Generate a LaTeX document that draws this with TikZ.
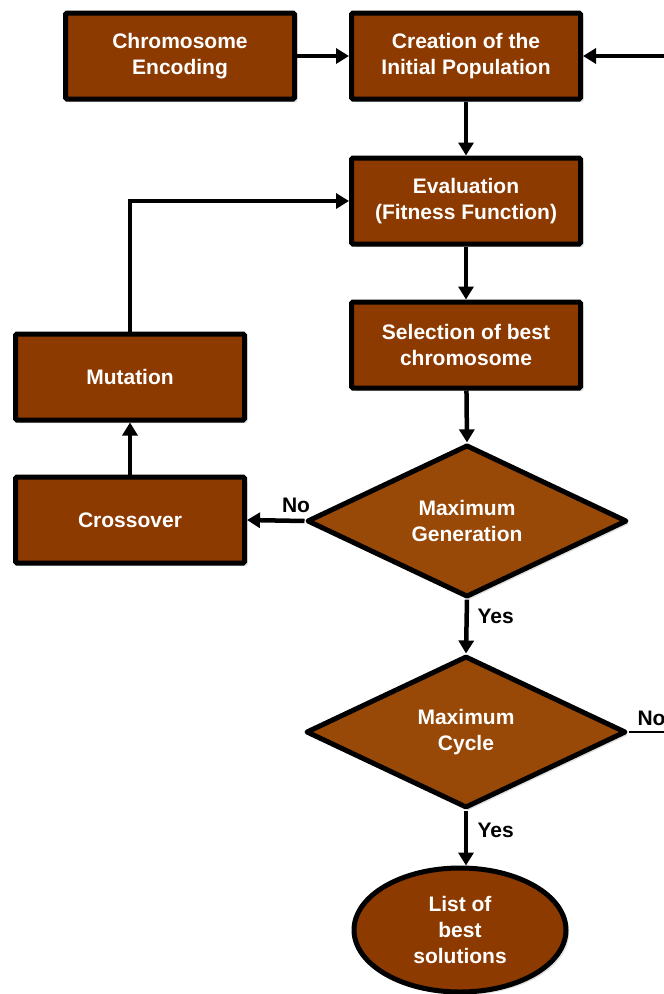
\documentclass[tikz,border=0pt]{standalone}
\usepackage{fontspec}
\setmainfont{Liberation Sans}
\usetikzlibrary{shapes.geometric,arrows.meta,shadows}
\definecolor{boxfill}{HTML}{8C3A00}
\definecolor{diafill}{HTML}{984807}
\begin{document}
\begin{tikzpicture}[x=1pt,y=-1pt,
  every node/.style={font=\bfseries\fontsize{21}{26}\selectfont},
  procbox/.style={draw=black,line width=5pt,fill=boxfill,text=white,align=center,
    minimum width=229pt,minimum height=86pt,inner sep=0pt,rounded corners=1.5pt,
    drop shadow={opacity=0.25,shadow xshift=3pt,shadow yshift=-3pt}},
  decision/.style={diamond,draw=black,line width=5pt,fill=diafill,text=white,align=center,
    minimum width=320pt,minimum height=152pt,inner sep=0pt,line join=round,
    drop shadow={opacity=0.25,shadow xshift=3pt,shadow yshift=-3pt}},
  termin/.style={ellipse,draw=black,line width=5pt,fill=boxfill,text=white,align=center,
    minimum width=212pt,minimum height=124pt,inner sep=0pt,
    drop shadow={opacity=0.25,shadow xshift=3pt,shadow yshift=-3pt}},
  arr/.style={line width=4.5pt,-{Triangle[length=13pt,width=15pt]}},
  lbl/.style={text=black}
]
\useasboundingbox (0,0) rectangle (664,994);
\node[procbox] (enc) at (180,56) {Chromosome\\Encoding};
\node[procbox] (init) at (466,56) {Creation of the\\Initial Population};
\node[procbox] (eval) at (466,201) {Evaluation\\(Fitness Function)};
\node[procbox] (sel) at (466,345) {Selection of best\\chromosome};
\node[procbox] (mut) at (130,377) {Mutation};
\node[procbox] (cross) at (130,520) {Crossover};
\node[decision] (mg) at (467,521) {Maximum\\Generation};
\node[decision] (mc) at (466,732) {Maximum\\Cycle};
\node[termin] (list) at (460,930) {List of\\best\\solutions};
\coordinate (rin) at (664,56);
\coordinate (cout) at (664,732);

\draw[arr] (enc) -- (init);
\draw[arr] (rin) -- (init.east);
\draw[arr] (init) -- (eval);
\draw[arr] (eval) -- (sel);
\draw[arr] (sel) -- (mg.north);
\draw[arr] (mg.west) -- (cross.east);
\draw[arr] (cross) -- (mut);
\draw[arr] (mut.north) |- (eval.west);
\draw[arr] (mg.south) -- (mc.north);
\draw[arr] (mc.south) -- (mc.south |- list.north);
\draw[line width=2.5pt] (mc.east) -- (cout);

\node[lbl] (no1) at (296,505) {No};
\node[lbl,anchor=west] (yes1) at (474,616) {Yes};
\node[lbl,anchor=west] (no2) at (634,718) {No};
\node[lbl,anchor=west] (yes2) at (474,830) {Yes};
\end{tikzpicture}
\end{document}
